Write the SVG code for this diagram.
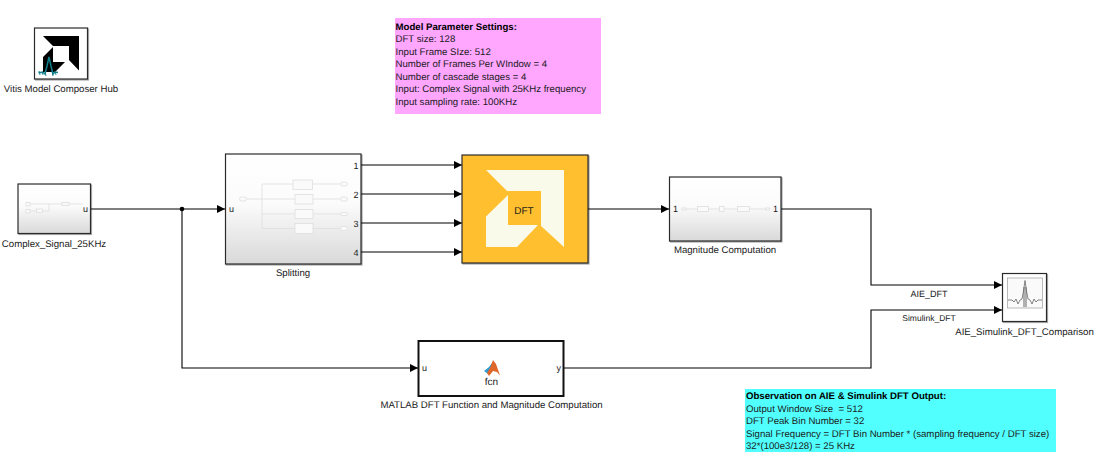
<svg xmlns="http://www.w3.org/2000/svg" width="1115" height="473" viewBox="0 0 1115 473">
<defs>
<linearGradient id="g" x1="0" y1="0" x2="0" y2="1"><stop offset="0" stop-color="#ffffff"/><stop offset="0.45" stop-color="#fbfbfb"/><stop offset="1" stop-color="#d9d9d9"/></linearGradient>
<marker id="a" markerUnits="userSpaceOnUse" markerWidth="9" markerHeight="8" refX="8" refY="4" orient="auto"><path d="M0,0L8,4L0,8z" fill="#000"/></marker>
<filter id="s" x="-5%" y="-5%" width="112%" height="112%"><feDropShadow dx="1" dy="1" stdDeviation="0.7" flood-color="#000" flood-opacity="0.35"/></filter>
</defs>
<style>
text{font-family:"Liberation Sans",Arial,sans-serif;font-size:9.65px;fill:#1a1a1a;text-rendering:geometricPrecision;white-space:pre}
.p{font-size:9px}
.b{font-weight:bold;fill:#000}
.m{text-anchor:middle}
.e{text-anchor:end}
.blk{stroke:#2b2b2b;stroke-width:1.2;filter:url(#s)}
.w{fill:none;stroke:#000;stroke-width:1.1}
.wa{fill:none;stroke:#000;stroke-width:1.1;marker-end:url(#a)}
.i{fill:#fafafa;stroke:#dedede;stroke-width:0.8}
.il{fill:none;stroke:#dedede;stroke-width:0.8}
</style>

<g id="connectors">
<path class="w" d="M90,209H182"/>
<path class="wa" d="M182,209H225"/>
<path class="wa" d="M182,209V368H418"/>
<circle cx="182" cy="209" r="2.3" fill="#000"/>
<path class="wa" d="M361,165H462"/>
<path class="wa" d="M361,194H462"/>
<path class="wa" d="M361,223H462"/>
<path class="wa" d="M361,252H462"/>
<path class="wa" d="M588,209H669"/>
<path class="wa" d="M781,209H871V285H1002"/>
<path class="wa" d="M564,368H871V310H1002"/>
</g>

<g id="note-parameters">
<rect x="395" y="18" width="206" height="96" fill="#ffa6ff"/>
<text class="b" x="395.500" y="29.500">Model Parameter Settings:</text>
<text x="395.500" y="42">DFT size: 128</text>
<text x="395.500" y="54.500">Input Frame SIze: 512</text>
<text x="395.500" y="67">Number of Frames Per WIndow = 4</text>
<text x="395.500" y="79.500">Number of cascade stages = 4</text>
<text x="395.500" y="92">Input: Complex Signal with 25KHz frequency</text>
<text x="395.500" y="105">Input sampling rate: 100KHz</text>
</g>

<g id="note-observation">
<rect x="745" y="389" width="311" height="63" fill="#52ffff"/>
<text class="b" x="746" y="399">Observation on AIE &amp; Simulink DFT Output:</text>
<text x="746" y="412">Output Window Size  = 512</text>
<text x="746" y="424">DFT Peak Bin Number = 32</text>
<text x="746" y="437">Signal Frequency = DFT Bin Number * (sampling frequency / DFT size)</text>
<text x="746" y="449">32*(100e3/128) = 25 KHz</text>
</g>

<g id="hub">
<rect class="blk" x="34.500" y="28" width="53" height="51" fill="#fff"/>
<path d="M43,36H79V70.500L69,60V46H53z" fill="#000"/>
<path d="M53,47V62H65L55,72H43V57z" fill="#000"/>
<path d="M38.500,72.500H43L45,74L47,66L49,57L51,66L53,74L55,72L58,72.500" fill="none" stroke="#0f7f8a" stroke-width="1.500"/>
<path d="M39,71L40,75M42,71L43,75M45,71L46,76M52,71L53,76M55,71L56,75" fill="none" stroke="#0f7f8a" stroke-width="0.900"/>
<text class="m" x="61" y="92">Vitis Model Composer Hub</text>
</g>

<g id="source">
<rect class="blk" x="18" y="184" width="72.500" height="49.500" fill="url(#g)"/>
<path class="il" d="M30,204H49M30,211H36M42,211H49V204M49,204H62M69,204H83"/>
<rect class="i" x="26" y="202.500" width="4" height="3.500"/>
<rect class="i" x="26" y="209.500" width="4" height="3.500"/>
<rect class="i" x="36.500" y="209" width="6" height="3.500"/>
<rect class="i" x="62" y="202.500" width="7" height="3"/>
<text class="e p" x="88" y="212">u</text>
<text class="m" x="54" y="246.500">Complex_Signal_25KHz</text>
</g>

<g id="splitting">
<rect class="blk" x="225.500" y="154" width="135.500" height="110" fill="url(#g)"/>
<path class="il" d="M247,199H262M262,184V228.500M262,184H293M262,199H295M262,214H295M262,228.500H295M313,184H340M313,199H340M313,214H340M313,228.500H340"/>
<rect class="i" x="293" y="180" width="19.500" height="9.500"/>
<rect class="i" x="295" y="194.500" width="18" height="9.500"/>
<rect class="i" x="295" y="209.500" width="18" height="9"/>
<rect class="i" x="295" y="223.500" width="18" height="10"/>
<rect class="i" x="239.500" y="197" width="7" height="4" rx="2"/>
<rect class="i" x="340.500" y="182" width="7" height="4" rx="2"/>
<rect class="i" x="340.500" y="197" width="7" height="4" rx="2"/>
<rect class="i" x="340.500" y="212.500" width="7" height="3" rx="1.500"/>
<rect class="i" x="340.500" y="226.500" width="7" height="4" rx="2"/>
<text class="p" x="229" y="212">u</text>
<text class="e p" x="358.500" y="169">1</text>
<text class="e p" x="358.500" y="198">2</text>
<text class="e p" x="358.500" y="227">3</text>
<text class="e p" x="358.500" y="256">4</text>
<text class="m" x="293" y="276">Splitting</text>
</g>

<g id="dft">
<rect class="blk" x="462" y="155" width="126" height="108" fill="#ffbf2f"/>
<path d="M486,170H564V247L541,226V191H507z" fill="#fafaea"/>
<path d="M508,195V225H538L517,247H486V216.500z" fill="#fafaea"/>
<text class="m" x="524" y="214" style="font-size:10px">DFT</text>
</g>

<g id="magnitude">
<rect class="blk" x="669.500" y="177" width="111.500" height="64" fill="url(#g)"/>
<path class="il" d="M686,209H697M709,209H719M724,209H737M749,209H765"/>
<rect class="i" x="682" y="208" width="4" height="2"/>
<rect class="i" x="697.500" y="206.500" width="11" height="5"/>
<rect class="i" x="719.500" y="206.500" width="4.500" height="5"/>
<rect class="i" x="737.500" y="206.500" width="12" height="5"/>
<rect class="i" x="765.500" y="208" width="4" height="2"/>
<text class="p" x="673" y="212">1</text>
<text class="e p" x="778" y="212">1</text>
<text class="m" x="725" y="253">Magnitude Computation</text>
</g>

<g id="scope">
<rect class="blk" x="1002.500" y="273.500" width="44" height="48" fill="#fff"/>
<rect x="1007.500" y="278" width="35" height="30" fill="#fafafa" stroke="#a8a8a8" stroke-width="0.800"/>
<rect x="1023" y="287" width="4" height="20" fill="#b0b0b0"/>
<path d="M1008,300H1012L1014,302L1016,299L1018,304L1020,300L1022,299L1023.500,291L1025,280.500L1026.500,291L1028,299L1030,300L1032,304L1034,299L1036,302L1038,300H1042" fill="none" stroke="#666" stroke-width="0.800"/>
<text class="m" x="1024.500" y="335">AIE_Simulink_DFT_Comparison</text>
</g>

<g id="fcn">
<rect x="418.500" y="341" width="145" height="55" fill="#fff" stroke="#111" stroke-width="2"/>
<path d="M484,371L489,367L492,363L495,366L488,374z" fill="#2f9bd0"/>
<path d="M490,368L493,360L496,364L500,375.500L497,372L493,371L489,376L487,373z" fill="#e0672a"/>
<text class="p" x="422" y="371">u</text>
<text class="e p" x="561" y="371">y</text>
<text class="m" x="491.500" y="385" style="font-size:10px">fcn</text>
<text class="m" x="491.500" y="408">MATLAB DFT Function and Magnitude Computation</text>
</g>

<g id="signal-labels">
<text class="m" x="929" y="297" style="font-size:9px">AIE_DFT</text>
<text class="m" x="929" y="321" style="font-size:8.500px">Simulink_DFT</text>
</g>
</svg>
